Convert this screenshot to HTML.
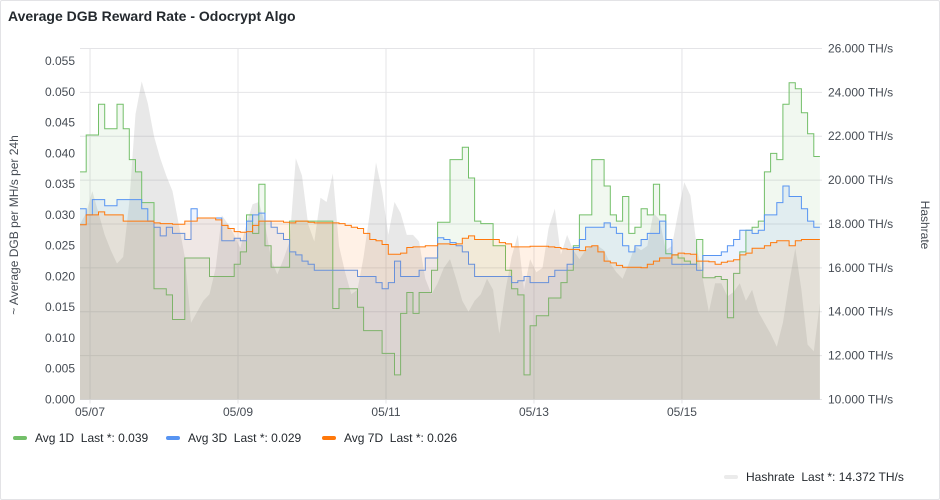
<!DOCTYPE html>
<html><head><meta charset="utf-8"><style>
body{margin:0;background:#fff;font-family:"Liberation Sans",sans-serif;}
#wrap{position:relative;width:940px;height:500px;overflow:hidden;}
#panel{position:absolute;left:0;top:0;width:938px;height:498px;border:1px solid #e3e3e6;border-radius:2px;}
#title{position:absolute;left:8px;top:8px;font-size:14px;font-weight:bold;color:#24292e;}
svg text{font-family:"Liberation Sans",sans-serif;font-size:12px;fill:#464c54;}
.leg{position:absolute;font-size:12px;color:#24292e;display:flex;align-items:center;white-space:pre;}
.sw{display:inline-block;width:14px;height:4px;border-radius:2px;margin-right:8px;}
</style></head><body>
<div id="wrap">
<div id="panel"></div>
<div id="title">Average DGB Reward Rate - Odocrypt Algo</div>
<svg id="chart" width="940" height="500" style="position:absolute;left:0;top:0"></svg>
<div class="leg" style="left:13px;top:431px"><span class="sw" style="background:#73bf69"></span>Avg 1D  Last *: 0.039</div>
<div class="leg" style="left:166px;top:431px"><span class="sw" style="background:#5794f2"></span>Avg 3D  Last *: 0.029</div>
<div class="leg" style="left:322px;top:431px"><span class="sw" style="background:#ff780a"></span>Avg 7D  Last *: 0.026</div>
<div class="leg" style="left:724px;top:470px"><span class="sw" style="background:#ebebeb"></span>Hashrate  Last *: 14.372 TH/s</div>
</div>
<script>
const hours=[];for(let t=0;t<=240;t+=2)hours.push(t);
const avg1d=[0.037,0.043,0.043,0.048,0.044,0.044,0.048,0.044,0.039,0.037,0.032,0.032,0.018,0.018,0.017,0.013,0.013,0.023,0.023,0.023,0.023,0.020,0.020,0.020,0.020,0.022,0.024,0.030,0.027,0.035,0.025,0.0215,0.0215,0.0215,0.029,0.029,0.029,0.029,0.029,0.029,0.029,0.0148,0.018,0.018,0.018,0.015,0.0112,0.0112,0.0112,0.0075,0.0075,0.004,0.014,0.0174,0.014,0.0174,0.0174,0.021,0.0288,0.0288,0.039,0.039,0.041,0.036,0.029,0.0286,0.0286,0.025,0.025,0.021,0.018,0.017,0.004,0.012,0.0136,0.0136,0.0165,0.0165,0.019,0.021,0.025,0.030,0.030,0.039,0.039,0.0347,0.030,0.029,0.033,0.027,0.028,0.031,0.030,0.035,0.030,0.0237,0.0235,0.023,0.0225,0.022,0.026,0.0198,0.0198,0.020,0.0195,0.0133,0.0205,0.024,0.0275,0.028,0.029,0.037,0.040,0.039,0.048,0.0515,0.0505,0.0466,0.0432,0.0395,0.0395];
const avg3d=[0.031,0.030,0.0325,0.0325,0.0315,0.0315,0.0325,0.0325,0.0325,0.0325,0.031,0.029,0.028,0.0266,0.028,0.027,0.027,0.026,0.031,0.0295,0.0295,0.0295,0.0295,0.0258,0.0258,0.0262,0.0258,0.029,0.030,0.0303,0.029,0.028,0.027,0.026,0.024,0.0235,0.0225,0.022,0.021,0.021,0.021,0.021,0.021,0.021,0.021,0.020,0.020,0.020,0.019,0.018,0.019,0.0225,0.020,0.020,0.020,0.021,0.023,0.023,0.0263,0.026,0.0255,0.025,0.024,0.022,0.020,0.020,0.020,0.020,0.020,0.020,0.019,0.0193,0.020,0.019,0.019,0.019,0.020,0.021,0.021,0.022,0.0247,0.026,0.028,0.028,0.028,0.0287,0.028,0.027,0.025,0.024,0.025,0.026,0.027,0.027,0.029,0.026,0.022,0.022,0.022,0.022,0.021,0.0234,0.0234,0.0234,0.024,0.025,0.026,0.0275,0.0275,0.027,0.0275,0.030,0.030,0.032,0.0347,0.033,0.033,0.031,0.029,0.028,0.028];
const avg7d=[0.0284,0.030,0.030,0.0305,0.030,0.030,0.030,0.029,0.029,0.029,0.029,0.029,0.0287,0.0286,0.0286,0.0285,0.0285,0.029,0.029,0.0295,0.0295,0.0295,0.0292,0.0283,0.0278,0.0273,0.0272,0.0273,0.0283,0.029,0.029,0.029,0.029,0.0288,0.0287,0.029,0.029,0.0288,0.0287,0.0287,0.0287,0.0287,0.0286,0.0283,0.028,0.0278,0.027,0.026,0.0258,0.0252,0.0236,0.0236,0.0238,0.0247,0.0248,0.0248,0.025,0.025,0.0253,0.0253,0.0252,0.0253,0.0262,0.0266,0.026,0.026,0.026,0.026,0.0255,0.0253,0.0248,0.0248,0.0248,0.0249,0.0249,0.0249,0.0248,0.0247,0.0245,0.0244,0.0244,0.0242,0.0248,0.025,0.024,0.0225,0.0222,0.0218,0.0215,0.0215,0.0215,0.0214,0.022,0.0225,0.023,0.023,0.0235,0.0238,0.0237,0.0236,0.0225,0.0225,0.0224,0.022,0.0223,0.0225,0.0227,0.0235,0.0238,0.0246,0.0246,0.025,0.0255,0.0258,0.0258,0.025,0.0258,0.026,0.026,0.026,0.026];
const hashrate=[18.0,18.5,19.5,18.5,17.5,16.8,16.2,16.5,19,23,24.5,23.5,22,21,20.2,19.5,18,16.5,13.5,14,14.5,14.8,16,18.4,18,17.5,16.9,18,18.9,19,18,16.4,15.7,16.4,17.2,21,20.2,18,17.2,19.2,19,20.3,17,15.8,14.8,15,16.5,18.5,20.8,19.5,17.5,19,18.5,17.5,17.5,17.2,15.5,14.8,15.3,16,16.4,15.5,14.5,14.0,14.5,14.8,15.5,15,13,15,16.5,17.5,15,16.4,15.8,16,17.8,18.7,16.6,17.5,16.8,16.4,16.8,17,17,16.8,16.2,15.8,15.5,16.2,17,16.8,17,18.5,18.2,16.8,17,18.5,19.9,19.3,17,15.5,14,15.3,15.3,14.7,14.9,15.3,14.5,15,14,13.5,13,12.4,13.5,15.3,16.9,15,12.5,12.2,14.4];
const leftTicks=["0.000","0.005","0.010","0.015","0.020","0.025","0.030","0.035","0.040","0.045","0.050","0.055"];
const rightTicks=["10.000 TH/s","12.000 TH/s","14.000 TH/s","16.000 TH/s","18.000 TH/s","20.000 TH/s","22.000 TH/s","24.000 TH/s","26.000 TH/s"];
const dayLabels=["05/07","05/09","05/11","05/13","05/15"];
const dayHours=[3.25,51.25,99.25,147.25,195.25];

const X0=80,X1=822,YB=399.5;
const pxPerHour=3.083;
const xs=t=>X0+t*pxPerHour;
const yl=v=>YB-v*(30.76/0.005);
const yr=h=>YB-(h-10)*21.94;
const svg=document.getElementById('chart');
const NS='http://www.w3.org/2000/svg';
function mk(tag,attrs,parent){const e=document.createElementNS(NS,tag);for(const k in attrs)e.setAttribute(k,attrs[k]);(parent||svg).appendChild(e);return e;}

const grid=mk('g',{});


rightTicks.forEach((lab,i)=>{const y=yr(10+2*i);
 const l=mk('line',{x1:X0,x2:X1,y1:y,y2:y,stroke:'#e4e4e7','stroke-width':1},grid);
 
 
 const t=mk('text',{x:828,y:y+4});t.textContent=lab;
 
 
});
dayHours.forEach((h,i)=>{const x=xs(h);
 const l=mk('line',{x1:x,x2:x,y1:49,y2:YB+4,stroke:'#e4e4e7','stroke-width':1},grid);
 
 
 const t=mk('text',{x:x,y:416,'text-anchor':'middle'});t.textContent=dayLabels[i];
 
 
});
leftTicks.forEach((lab,i)=>{const t=mk('text',{x:75,y:yl(i*0.005)+4,'text-anchor':'end'});t.textContent=lab;
 
 
});
const yt=mk('text',{transform:'translate(18,225) rotate(-90)','text-anchor':'middle'});yt.textContent='~ Average DGB per MH/s per 24h';


const rt=mk('text',{transform:'translate(921,225) rotate(90)','text-anchor':'middle'});rt.textContent='Hashrate';



function linePts(vals,yf){return vals.map((v,i)=>[xs(hours[i]),yf(v)]);}
function stepPts(vals,yf){const p=[];vals.forEach((v,i)=>{const x=xs(hours[i]);if(i>0)p.push([x,yf(vals[i-1])]);p.push([x,yf(v)]);});return p;}
function draw(pts,color,fill,fop,name){
 const d='M'+pts.map(p=>p[0].toFixed(1)+','+p[1].toFixed(1)).join('L');
 const a=mk('path',{d:d+'L'+pts[pts.length-1][0].toFixed(1)+','+YB+'L'+pts[0][0].toFixed(1)+','+YB+'Z',fill:fill,'fill-opacity':fop,stroke:'none'});
 
 
 if(color){const l=mk('path',{d:d,fill:'none',stroke:color,'stroke-width':1});
 
 }
}
draw(linePts(hashrate,yr),null,'#8a8a8a',0.2,'hashrate');
draw(stepPts(avg1d,yl),'#73bf69','#73bf69',0.1,'avg-1d');
draw(stepPts(avg3d,yl),'#5794f2','#5794f2',0.1,'avg-3d');
draw(stepPts(avg7d,yl),'#ff780a','#ff780a',0.1,'avg-7d');
</script>
</body></html>
